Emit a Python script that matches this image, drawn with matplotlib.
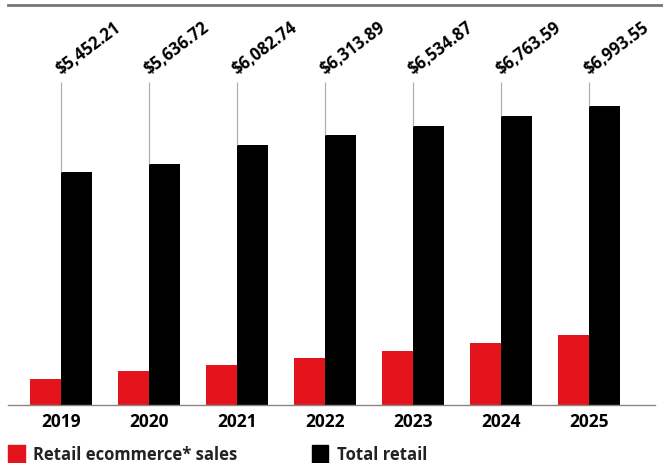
import numpy as np
import matplotlib.pyplot as plt
from matplotlib.patches import Rectangle

years = ['2019', '2020', '2021', '2022', '2023', '2024', '2025']
ecommerce = [598.02, 791.20, 933.30, 1089.16, 1262.33, 1449.16, 1647.70]
total = [5452.21, 5636.72, 6082.74, 6313.89, 6534.87, 6763.59, 6993.55]
ecom_labels = ['$598.02', '$791.20', '$933.30', '$1,089.16', '$1,262.33', '$1,449.16', '$1,647.70']
total_labels = ['$5,452.21', '$5,636.72', '$6,082.74', '$6,313.89', '$6,534.87', '$6,763.59', '$6,993.55']

red = '#e3141b'
fam = 'Open Sans'

W, H = 663, 463
fig = plt.figure(figsize=(W / 100, H / 100), dpi=100)
# axes: left 8px, right 655px, baseline at y=405, top at y=5
ax = fig.add_axes([8 / W, (H - 405) / H, (655 - 8) / W, 400 / H])

x = np.arange(len(years))
bw = 0.355
ax.bar(x - bw / 2, ecommerce, width=bw, color=red, linewidth=0)
ax.bar(x + bw / 2, total, width=bw, color='black', linewidth=0)

line_top = 7557
ax.vlines(x, total, line_top, color='#b0b0b0', linewidth=0.9)

# rotated value labels (black only, to check rotation)
for i in range(len(years)):
    ax.text(x[i], 7710, total_labels[i], rotation=37, family=fam, fontweight='bold',
            fontsize=12, rotation_mode='anchor')

ax.set_xlim(-0.602, 6.75)
ax.set_ylim(0, 9359)
ax.set_xticks(x)
ax.set_xticklabels(years, fontsize=12.5, fontweight='bold', family=fam)
ax.tick_params(axis='x', length=0, pad=6)
ax.set_yticks([])
for s in ['left', 'right', 'top']:
    ax.spines[s].set_visible(False)
ax.spines['bottom'].set_color('#888888')
ax.spines['bottom'].set_linewidth(1.0)

# top rule
fig.add_artist(plt.Line2D([8 / W, 1.0], [(H - 5) / H] * 2, color='#777777', linewidth=2))

# legend
fig.add_artist(Rectangle((8 / W, 0), 17 / W, 18 / H, color=red, transform=fig.transFigure))
fig.text(33 / W, (H - 455) / H, 'Retail ecommerce* sales', fontsize=12, fontweight='bold',
         family=fam, va='center', ha='left', color='#222222')
fig.add_artist(Rectangle((312 / W, 0), 16 / W, 18 / H, color='black', transform=fig.transFigure))
fig.text(337 / W, (H - 455) / H, 'Total retail', fontsize=12, fontweight='bold',
         family=fam, va='center', ha='left', color='#222222')

fig.savefig('out.png', dpi=100)
